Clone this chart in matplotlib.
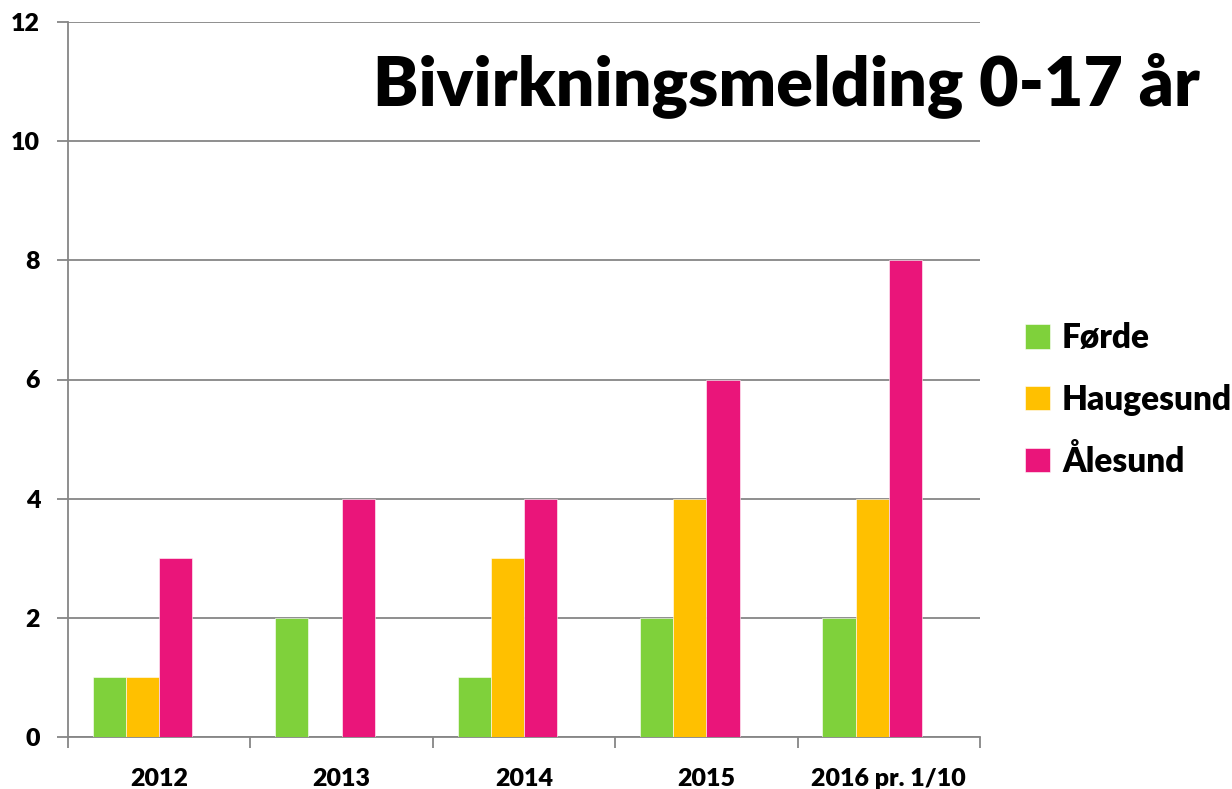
import matplotlib
matplotlib.use("Agg")
import matplotlib.pyplot as plt
import numpy as np

categories = ["2012", "2013", "2014", "2015", "2016 pr. 1/10"]
series_names = ["Førde", "Haugesund", "Ålesund"]
forde = [1, 2, 1, 2, 2]
haugesund = [1, 0, 3, 4, 4]
alesund = [3, 4, 4, 6, 8]
colors = ["#7FD13B", "#FFC000", "#EA157A"]
title = "Bivirkningsmelding 0-17 år"

plt.rcParams['font.family'] = ['Lato', 'DejaVu Sans']
WEIGHT = 'heavy'

fig = plt.figure(figsize=(12.32, 7.89), dpi=100)
ax = fig.add_axes([68/1232, 1-737/789, (980-68)/1232, (737-22)/789])

x = np.arange(len(categories))
w = 1/5.5
grid_c = "#868686"
for i, (vals, name, c) in enumerate(zip([forde, haugesund, alesund], series_names, colors)):
    ax.bar(x + (i-1.5)*w, vals, width=w, color=c, label=name, zorder=3,
           edgecolor="white", linewidth=0.4)

ax.set_xlim(-0.5, len(categories)-0.5)
ax.set_ylim(0, 12)
ax.set_yticks(np.arange(0, 13, 2))
ax.yaxis.grid(True, color=grid_c, linewidth=1.3, zorder=0)
ax.set_xticks(x)
ax.set_xticklabels(categories, fontsize=18, fontweight=WEIGHT)
ax.set_xticks(np.arange(-0.5, len(categories), 1), minor=True)
ax.tick_params(axis='x', which='major', length=0, pad=22)
ax.tick_params(axis='x', which='minor', length=8, color=grid_c, width=1.3)
ax.tick_params(axis='y', length=8, color=grid_c, width=1.3, labelsize=18, pad=12)
for lbl in ax.get_yticklabels():
    lbl.set_fontweight(WEIGHT)
for s in ['top', 'right']:
    ax.spines[s].set_visible(False)
for s in ['left', 'bottom']:
    ax.spines[s].set_color(grid_c)
    ax.spines[s].set_linewidth(1.3)

fig.text(1200/1232, 1-85/789, title, fontsize=49, fontweight=WEIGHT,
         ha='right', va='center')

leg = fig.legend(loc='center left', bbox_to_anchor=(1002/1232, 1-400/789),
                 frameon=False, handlelength=0.75, handleheight=0.75,
                 labelspacing=0.88, handletextpad=0.35, borderpad=0.2,
                 prop={'weight': WEIGHT, 'size': 24})
fig.savefig("out.png", dpi=100)
